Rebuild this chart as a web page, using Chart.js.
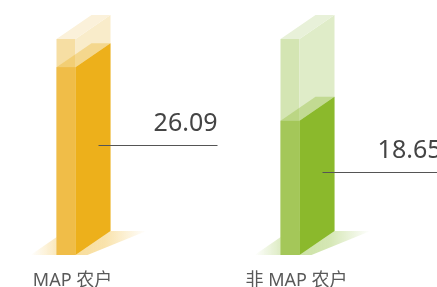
<!DOCTYPE html>
<html>
<head>
<meta charset="utf-8">
<script src="https://cdn.jsdelivr.net/npm/chart.js@4"></script>
<style>
    html, body { margin: 0; padding: 0; background: #fff; overflow: hidden; }
</style>
</head>
<body>
<canvas id="chart" width="437" height="287"></canvas>
<script>
// data
const categories = ['MAP 农户', '非 MAP 农户'];
const values = [26.09, 18.65];
const maxValues = [30, 30];

// colours per bar: front, side, top, bg front, bg side, bg top, shadow rgb
const palette = [
    { front: '#f0bd48', side: '#edb01b', top: 'rgba(236,178,30,0.35)',
      bgFront: '#f6dea3', bgSide: '#f9ecca', bgTop: '#fbf1da', shadow: '240,185,50' },
    { front: '#a4c759', side: '#8bb92c', top: 'rgba(140,186,46,0.35)',
      bgFront: '#d4e5b3', bgSide: '#dfecc8', bgTop: '#e8f1d9', shadow: '150,195,70' }
];

const DX = 35, DY = 24, FRONT_W = 19;

function prism(ctx, L, R, top, base, c) {
    // front face
    ctx.fillStyle = c[0];
    ctx.fillRect(L, top, R - L, base - top);
    // side face
    ctx.fillStyle = c[1];
    ctx.beginPath();
    ctx.moveTo(R, top);
    ctx.lineTo(R + DX, top - DY);
    ctx.lineTo(R + DX, base - DY);
    ctx.lineTo(R, base);
    ctx.closePath();
    ctx.fill();
    // top face
    ctx.fillStyle = c[2];
    ctx.beginPath();
    ctx.moveTo(L, top);
    ctx.lineTo(R, top);
    ctx.lineTo(R + DX, top - DY);
    ctx.lineTo(L + DX, top - DY);
    ctx.closePath();
    ctx.fill();
}

const bar3d = {
    id: 'bar3d',
    afterDatasetsDraw(chart) {
        const ctx = chart.ctx;
        const bgMeta = chart.getDatasetMeta(0);
        const valMeta = chart.getDatasetMeta(1);
        ctx.save();
        valMeta.data.forEach((bar, i) => {
            const p = palette[i];
            const L = bar.x - 16, R = L + FRONT_W;
            const base = bar.base, top = bar.y;
            const bgTop = bgMeta.data[i].y;

            // floor shadow
            const g = ctx.createLinearGradient(L - 26, 0, R + DX + 36, 0);
            g.addColorStop(0, 'rgba(' + p.shadow + ',0)');
            g.addColorStop(0.35, 'rgba(' + p.shadow + ',0.5)');
            g.addColorStop(0.65, 'rgba(' + p.shadow + ',0.4)');
            g.addColorStop(1, 'rgba(' + p.shadow + ',0)');
            ctx.fillStyle = g;
            ctx.beginPath();
            ctx.moveTo(L - 26, base);
            ctx.lineTo(R + 12, base);
            ctx.lineTo(R + DX + 36, base - DY);
            ctx.lineTo(L - 26 + DX, base - DY);
            ctx.closePath();
            ctx.fill();

            prism(ctx, L, R, bgTop, base, [p.bgFront, p.bgSide, p.bgTop]);
            prism(ctx, L, R, top, base, [p.front, p.side, p.top]);

            // leader line + value
            const x0 = L + 42, x1 = bar.x + 145;
            const ly = Math.round((top + base) / 2 - (x0 - R) * DY / DX) + 0.5;
            ctx.strokeStyle = '#555';
            ctx.lineWidth = 1;
            ctx.beginPath();
            ctx.moveTo(x0, ly);
            ctx.lineTo(x1, ly);
            ctx.stroke();

            ctx.fillStyle = '#444';
            ctx.font = '25px "Noto Sans"';
            ctx.textAlign = 'right';
            ctx.textBaseline = 'alphabetic';
            ctx.fillText(values[i].toFixed(2), x1, ly - 15);
        });
        ctx.restore();
    }
};

new Chart(document.getElementById('chart'), {
    type: 'bar',
    data: {
        labels: categories,
        datasets: [
            { data: maxValues, backgroundColor: 'rgba(0,0,0,0)', grouped: false },
            { data: values, backgroundColor: 'rgba(0,0,0,0)', grouped: false }
        ]
    },
    options: {
        responsive: false,
        animation: false,
        devicePixelRatio: 1,
        layout: { padding: { top: 39, left: 72.5, right: 140.5, bottom: 0 } },
        plugins: { legend: { display: false }, tooltip: { enabled: false } },
        scales: {
            x: {
                offset: false,
                grid: { display: false },
                border: { display: false },
                ticks: {
                    color: '#595959',
                    padding: 7,
                    maxRotation: 0,
                    autoSkip: false,
                    font: { family: '"Noto Sans", "Noto Sans CJK SC"', size: 18 }
                },
                afterFit(s) { s.height = 32; }
            },
            y: { display: false, min: 0, max: 30 }
        }
    },
    plugins: [bar3d]
});
</script>
</body>
</html>
